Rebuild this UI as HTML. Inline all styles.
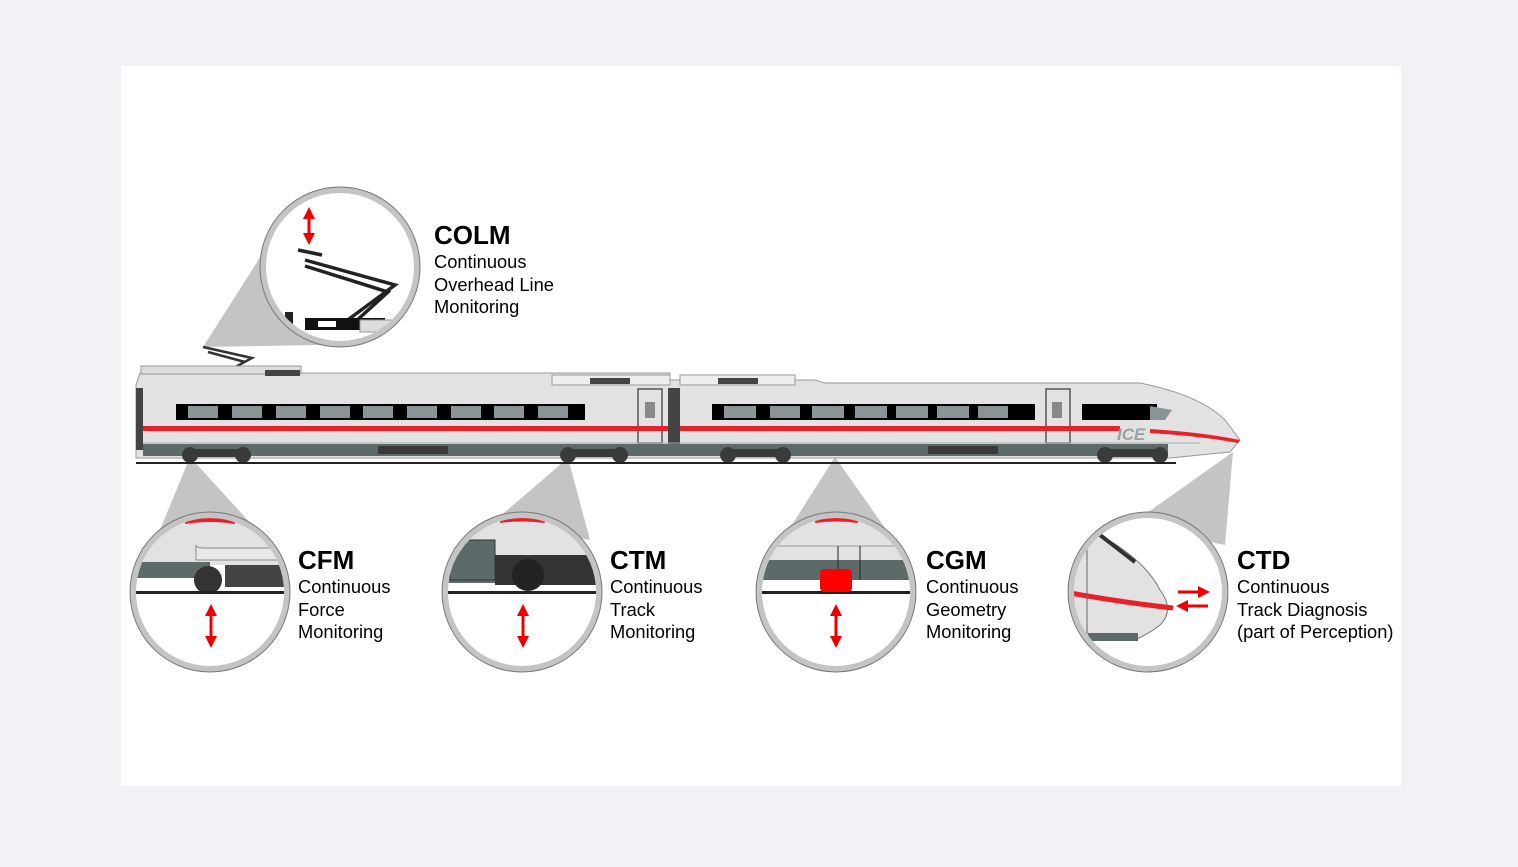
<!DOCTYPE html>
<html><head><meta charset="utf-8"><style>
html,body{margin:0;padding:0;background:#f1f2f6;}
svg{display:block;}
text{font-family:"Liberation Sans",sans-serif;fill:#000;}
.t{font-size:26px;font-weight:bold;}
.s{font-size:18.3px;}
</style></head><body>
<svg width="1518" height="867" viewBox="0 0 1518 867" xmlns="http://www.w3.org/2000/svg">
<defs>
<marker id="ah" markerWidth="4" markerHeight="4" refX="2" refY="2" orient="auto-start-reverse"><path d="M0,0 L4,2 L0,4 z" fill="#e00"/></marker>
<clipPath id="c1"><circle cx="340" cy="267" r="74"/></clipPath>
<clipPath id="c2"><circle cx="210" cy="592" r="74"/></clipPath>
<clipPath id="c3"><circle cx="522" cy="592" r="74"/></clipPath>
<clipPath id="c4"><circle cx="836" cy="592" r="74"/></clipPath>
<clipPath id="c5"><circle cx="1148" cy="592" r="74"/></clipPath>
</defs>
<rect x="121" y="66" width="1280" height="720" fill="#fff"/>

<!-- funnels -->
<g fill="#c4c4c4">
<polygon points="203,347 268,245 320,345"/>
<polygon points="190,457 160,530 255,528"/>
<polygon points="568,458 490,525 590,540"/>
<polygon points="835,457 790,528 885,528"/>
<polygon points="1233,452 1130,525 1225,545"/>
</g>

<!-- pantograph on train -->
<g stroke="#333" stroke-width="2.5" fill="none">
<polyline points="203,347 252,358 215,378"/>
<line x1="208" y1="352" x2="245" y2="362"/>
</g>

<!-- train -->
<g>
<path d="M140,373 H670 V380 H815 L825,383 H1140 Q1200,395 1225,420 L1240,440 L1230,452 L1170,458 H136 V385 Z" fill="#e2e2e2" stroke="#999" stroke-width="1"/>
<rect x="141" y="366" width="160" height="8" fill="#ddd" stroke="#999"/>
<rect x="265" y="370" width="35" height="6" fill="#444"/>
<rect x="552" y="375" width="118" height="10" fill="#eee" stroke="#999"/>
<rect x="590" y="378" width="40" height="6" fill="#444"/>
<rect x="680" y="375" width="115" height="10" fill="#eee" stroke="#999"/>
<rect x="718" y="378" width="40" height="6" fill="#444"/>
<rect x="136" y="388" width="7" height="62" fill="#444"/>
<rect x="668" y="388" width="12" height="62" fill="#444"/>
<!-- windows car1 -->
<rect x="176" y="404" width="409" height="16" fill="#000"/>
<g fill="#8a9496">
<rect x="188" y="406" width="30" height="12"/><rect x="232" y="406" width="30" height="12"/><rect x="276" y="406" width="30" height="12"/><rect x="320" y="406" width="30" height="12"/><rect x="363" y="406" width="30" height="12"/><rect x="407" y="406" width="30" height="12"/><rect x="451" y="406" width="30" height="12"/><rect x="494" y="406" width="30" height="12"/><rect x="538" y="406" width="30" height="12"/>
</g>
<!-- windows car2 -->
<rect x="712" y="404" width="323" height="16" fill="#000"/>
<g fill="#8a9496">
<rect x="724" y="406" width="32" height="12"/><rect x="770" y="406" width="30" height="12"/><rect x="812" y="406" width="32" height="12"/><rect x="855" y="406" width="32" height="12"/><rect x="896" y="406" width="32" height="12"/><rect x="937" y="406" width="32" height="12"/><rect x="978" y="406" width="30" height="12"/>
</g>
<rect x="1082" y="404" width="75" height="16" fill="#000"/>
<polygon points="1150,406 1172,410 1165,420 1150,420" fill="#8a9496"/>
<!-- doors -->
<rect x="638" y="389" width="24" height="54" fill="none" stroke="#555" stroke-width="1.5"/>
<rect x="1046" y="389" width="24" height="54" fill="none" stroke="#555" stroke-width="1.5"/>
<rect x="645" y="402" width="10" height="16" fill="#888"/>
<rect x="1052" y="402" width="10" height="16" fill="#888"/>
<!-- red stripe -->
<rect x="143" y="426" width="525" height="5" fill="#e8202a"/>
<rect x="680" y="426" width="440" height="5" fill="#e8202a"/>
<path d="M1150,429 Q1200,432 1240,440 L1238,443 Q1200,436 1150,433 Z" fill="#e8202a"/>
<text x="1117" y="440" style="font-size:17px;font-style:italic;font-weight:bold;fill:#9aa0a6">ICE</text>
<!-- skirt -->
<rect x="143" y="444" width="1025" height="12" fill="#5d6a6a"/>
<line x1="143" y1="443" x2="1200" y2="443" stroke="#aaa"/>
<g fill="#3a3a3a">
<circle cx="190" cy="455" r="8"/><circle cx="243" cy="455" r="8"/><rect x="190" y="449" width="53" height="8"/>
<circle cx="568" cy="455" r="8"/><circle cx="620" cy="455" r="8"/><rect x="568" y="449" width="52" height="8"/>
<circle cx="728" cy="455" r="8"/><circle cx="783" cy="455" r="8"/><rect x="728" y="449" width="55" height="8"/>
<circle cx="1105" cy="455" r="8"/><circle cx="1160" cy="455" r="8"/><rect x="1105" y="449" width="55" height="8"/>
<rect x="378" y="446" width="70" height="8"/><rect x="928" y="446" width="70" height="8"/>
</g>
<rect x="136" y="462" width="1040" height="2" fill="#222"/>
</g>

<!-- magnifier circles -->
<g fill="#fff" stroke="#c4c4c4" stroke-width="6">
<circle cx="340" cy="267" r="77"/>
<circle cx="210" cy="592" r="77"/>
<circle cx="522" cy="592" r="77"/>
<circle cx="836" cy="592" r="77"/>
<circle cx="1148" cy="592" r="77"/>
</g>
<g fill="none" stroke="#777" stroke-width="1">
<circle cx="340" cy="267" r="80"/>
<circle cx="210" cy="592" r="80"/>
<circle cx="522" cy="592" r="80"/>
<circle cx="836" cy="592" r="80"/>
<circle cx="1148" cy="592" r="80"/>
</g>

<!-- COLM content -->
<g clip-path="url(#c1)">
<g stroke="#222" stroke-width="3.5" fill="none">
<polyline points="305,260 395,285 345,322"/>
<polyline points="305,266 388,292 355,322"/>
<line x1="298" y1="250" x2="322" y2="255"/>
</g>
<rect x="305" y="318" width="80" height="12" fill="#111"/>
<rect x="318" y="321" width="18" height="6" fill="#fff"/>
<rect x="360" y="320" width="60" height="12" fill="#ddd" stroke="#999"/>
<rect x="285" y="312" width="8" height="12" fill="#222"/>
</g>
<line x1="309" y1="213" x2="309" y2="239" stroke="#e00" stroke-width="3" marker-end="url(#ah)" marker-start="url(#ah)"/>

<!-- CFM content -->
<g clip-path="url(#c2)">
<rect x="130" y="515" width="160" height="50" fill="#e2e2e2"/>
<path d="M185,522 Q210,518 235,522" stroke="#e8202a" stroke-width="4" fill="none"/>
<rect x="130" y="562" width="80" height="16" fill="#5d6a6a"/>
<path d="M196,560 V545 Q196,548 205,548 H290 V560 Z" fill="#e8e8e8" stroke="#888"/>
<circle cx="208" cy="580" r="14" fill="#333"/>
<rect x="225" y="565" width="60" height="22" fill="#444"/>
<rect x="130" y="591" width="160" height="3" fill="#222"/>
</g>
<line x1="211" y1="610" x2="211" y2="642" stroke="#e00" stroke-width="3" marker-end="url(#ah)" marker-start="url(#ah)"/>

<!-- CTM content -->
<g clip-path="url(#c3)">
<rect x="440" y="515" width="170" height="42" fill="#e2e2e2"/>
<path d="M500,521 Q522,518 545,521" stroke="#e8202a" stroke-width="4" fill="none"/>
<rect x="440" y="555" width="170" height="28" fill="#5d6a6a"/>
<rect x="450" y="540" width="45" height="40" fill="#5d6a6a" stroke="#333"/>
<rect x="495" y="555" width="110" height="30" fill="#333"/>
<circle cx="528" cy="575" r="16" fill="#222"/>
<rect x="440" y="591" width="170" height="3" fill="#222"/>
</g>
<line x1="523" y1="610" x2="523" y2="642" stroke="#e00" stroke-width="3" marker-end="url(#ah)" marker-start="url(#ah)"/>

<!-- CGM content -->
<g clip-path="url(#c4)">
<rect x="755" y="515" width="170" height="45" fill="#e2e2e2"/>
<path d="M815,521 Q836,518 858,521" stroke="#e8202a" stroke-width="4" fill="none"/>
<line x1="755" y1="546" x2="925" y2="546" stroke="#999"/>
<rect x="755" y="560" width="170" height="20" fill="#5d6a6a"/>
<line x1="838" y1="546" x2="838" y2="570" stroke="#222"/>
<line x1="860" y1="546" x2="860" y2="580" stroke="#222"/>
<rect x="755" y="591" width="170" height="3" fill="#222"/>
</g>
<rect x="820" y="569" width="32" height="23" rx="4" fill="#ff0000"/>
<line x1="836" y1="610" x2="836" y2="642" stroke="#e00" stroke-width="3" marker-end="url(#ah)" marker-start="url(#ah)"/>

<!-- CTD content -->
<g clip-path="url(#c5)">
<path d="M1070,520 L1100,535 Q1145,560 1160,590 Q1175,610 1160,625 Q1150,633 1135,640 H1070 Z" fill="#e2e2e2" stroke="#777"/>
<line x1="1100" y1="535" x2="1135" y2="562" stroke="#333" stroke-width="4"/>
<path d="M1070,593 Q1120,602 1173,608" stroke="#e8202a" stroke-width="5" fill="none"/>
<line x1="1087" y1="530" x2="1087" y2="640" stroke="#666"/>
<rect x="1088" y="633" width="50" height="8" fill="#5d6a6a"/>
</g>
<line x1="1178" y1="592" x2="1204" y2="592" stroke="#e00" stroke-width="3" marker-end="url(#ah)"/>
<line x1="1208" y1="606" x2="1182" y2="606" stroke="#e00" stroke-width="3" marker-end="url(#ah)"/>

<!-- labels -->
<text class="t" x="434" y="244">COLM</text>
<text class="s" x="434" y="268">Continuous</text>
<text class="s" x="434" y="291">Overhead Line</text>
<text class="s" x="434" y="313">Monitoring</text>

<text class="t" x="298" y="569">CFM</text>
<text class="s" x="298" y="593">Continuous</text>
<text class="s" x="298" y="616">Force</text>
<text class="s" x="298" y="638">Monitoring</text>

<text class="t" x="610" y="569">CTM</text>
<text class="s" x="610" y="593">Continuous</text>
<text class="s" x="610" y="616">Track</text>
<text class="s" x="610" y="638">Monitoring</text>

<text class="t" x="926" y="569">CGM</text>
<text class="s" x="926" y="593">Continuous</text>
<text class="s" x="926" y="616">Geometry</text>
<text class="s" x="926" y="638">Monitoring</text>

<text class="t" x="1237" y="569">CTD</text>
<text class="s" x="1237" y="593">Continuous</text>
<text class="s" x="1237" y="616">Track Diagnosis</text>
<text class="s" x="1237" y="638">(part of Perception)</text>
</svg>
</body></html>
